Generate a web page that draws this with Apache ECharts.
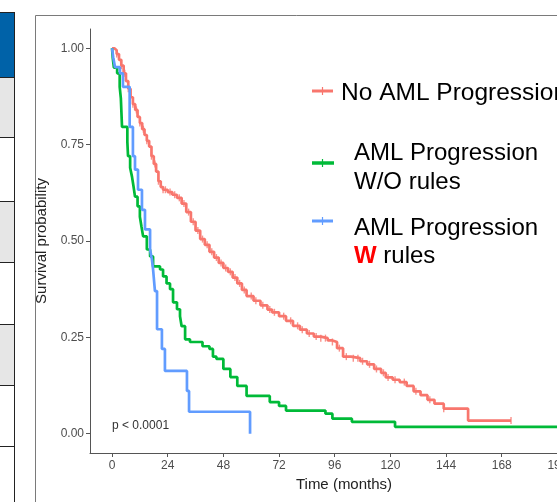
<!DOCTYPE html>
<html>
<head>
<meta charset="utf-8">
<script src="https://cdn.jsdelivr.net/npm/echarts@6/dist/echarts.min.js"></script>
<style>
  html, body { margin: 0; padding: 0; background: #fff; }
  #chart { width: 557px; height: 502px; }
</style>
</head>
<body>
<div id="chart"></div>
<script>
// tick labels
const timeTicks = [0, 24, 48, 72, 96, 120, 144, 168, 192]
const survTicks = [0, 0.25, 0.5, 0.75, 1]

// No AML Progression
const noProgTime = [0,1,2,3,4,5,6,7,8,9,10,11,12,13,14,15,16,17,18,19,20,21,22,
  24,26,28,30,32,34,36,38,40,42,44,46,48,50,52,54,56,58,
  61,64,67,69,72,75,78,81,84,87,90,93,95,97,
  99.6,103,107,110,113,116,118,121,124,127,130,133,136,139,143,153.5,172]
const noProgSurv = [1,0.995,0.985,0.97,0.955,0.935,0.915,0.895,0.873,0.855,0.84,0.822,0.806,0.79,0.775,0.76,0.745,0.72,0.70,0.68,0.655,0.64,0.633,
  0.627,0.62,0.612,0.597,0.575,0.55,0.527,0.505,0.49,0.472,0.457,0.443,0.43,0.42,0.405,0.39,0.373,0.357,
  0.345,0.333,0.322,0.315,0.305,0.293,0.28,0.27,0.26,0.252,0.248,0.242,0.238,0.222,
  0.20,0.196,0.188,0.18,0.168,0.158,0.146,0.14,0.134,0.124,0.11,0.10,0.088,0.078,0.065,0.034,0.034]
const noProgCensor = [2,4,5.5,7,9,10.5,12,13.5,15,17,18.5,20,22,23,25,27,29,31,33,35,37,39,41,43,45,47,49,
  51,53,55,57,60,62,65,68,70,74,77,80,82,85,88,90,92,95,98,101,104,106,108,111,114,117,119,122,126,131,137,143,172]

// AML Progression W/O rules
const woRulesTime = [0,0.3,0.8,2.2,3.3,3.8,4.3,6.6,6.9,7.8,8.6,9.3,9.9,11,12,12.7,13.4,
  15,16.4,17.7,20.7,22,23.5,25,26.3,28,29.3,30,31.5,33.6,
  39,42,43.5,45,48,51,54,58,68,72,75,92,95,103.4,122,205]
const woRulesSurv = [1,0.975,0.95,0.935,0.9,0.87,0.796,0.757,0.72,0.69,0.667,0.64,0.615,0.59,0.563,0.537,0.512,
  0.478,0.46,0.434,0.426,0.408,0.39,0.375,0.341,0.323,0.305,0.279,0.245,0.238,
  0.227,0.22,0.2,0.194,0.168,0.147,0.124,0.098,0.082,0.072,0.06,0.052,0.039,0.031,0.018,0.018]

// AML Progression W rules
const wRulesTime = [0,0.5,1.3,3.4,4.7,7.6,9,9.9,11.2,12.9,14.2,16.4,17.2,17.7,18.5,19.4,21.5,22.8,32.3,33.2,59.5]
const wRulesSurv = [1,0.977,0.951,0.935,0.9,0.796,0.72,0.685,0.633,0.581,0.53,0.478,0.452,0.426,0.37,0.271,0.22,0.163,0.111,0.057,0]

const colors = ["#F8766D", "#00BA38", "#619CFF"]
const font = "Liberation Sans, Arial, sans-serif"

const pairs = (t, s) => t.map((v, i) => [v, s[i]])

const survAt = (t, s, x) => {
    let k = 0
    for (let i = 0; i < t.length; i++) if (t[i] <= x) k = i
    return s[k]
}

const stepSeries = (name, t, s, color) => ({
    name,
    type: "line",
    step: "end",
    data: pairs(t, s),
    showSymbol: false,
    lineStyle: { color, width: 2.7 },
    silent: true
})

const chart = echarts.init(document.getElementById("chart"))

chart.setOption({
    animation: false,
    grid: { left: 90, top: 29, right: -41, bottom: 49, outerBoundsMode: "none" },
    xAxis: {
        type: "value",
        min: -9.5,
        max: 209.5,
        name: "Time (months)",
        nameLocation: "middle",
        nameGap: 23,
        nameTextStyle: { fontFamily: font, fontSize: 15, color: "#222" },
        axisLine: { onZero: false, lineStyle: { color: "#555", width: 1 } },
        axisTick: { customValues: timeTicks, length: 4, lineStyle: { color: "#555" } },
        axisLabel: { customValues: timeTicks, margin: 7, fontFamily: font, fontSize: 12, color: "#4d4d4d" },
        splitLine: { show: false }
    },
    yAxis: {
        type: "value",
        min: -0.05,
        max: 1.05,
        name: "Survival probability",
        nameLocation: "middle",
        nameGap: 36,
        nameTextStyle: { fontFamily: font, fontSize: 15, color: "#222" },
        axisLine: { show: true, onZero: false, lineStyle: { color: "#555", width: 1 } },
        axisTick: { show: true, customValues: survTicks, length: 4, lineStyle: { color: "#555" } },
        axisLabel: {
            customValues: survTicks, margin: 6, fontFamily: font, fontSize: 12, color: "#4d4d4d",
            formatter: v => v.toFixed(2)
        },
        splitLine: { show: false }
    },
    series: [
        stepSeries("No AML Progression", noProgTime, noProgSurv, colors[0]),
        {
            name: "No AML Progression censored",
            type: "scatter",
            symbol: "rect",
            symbolSize: [1.4, 7],
            itemStyle: { color: colors[0] },
            data: noProgCensor.map(c => [c, survAt(noProgTime, noProgSurv, c)]),
            silent: true
        },
        stepSeries("AML Progression W/O rules", woRulesTime, woRulesSurv, colors[1]),
        stepSeries("AML Progression W rules", wRulesTime, wRulesSurv, colors[2])
    ],
    graphic: [
        // left table strip
        { type: "rect", shape: { x: 0, y: 12, width: 14, height: 65 }, style: { fill: "#0062a8" } },
        { type: "rect", shape: { x: 0, y: 77, width: 14, height: 60 }, style: { fill: "#e6e6e6" } },
        { type: "rect", shape: { x: 0, y: 201, width: 14, height: 61 }, style: { fill: "#e6e6e6" } },
        { type: "rect", shape: { x: 0, y: 324, width: 14, height: 61 }, style: { fill: "#e6e6e6" } },
        ...[12, 77, 137, 201, 262, 324, 385, 446].map(y => ({
            type: "line", shape: { x1: 0, y1: y + 0.5, x2: 14, y2: y + 0.5 }, style: { stroke: "#222", lineWidth: 1 }
        })),
        { type: "line", shape: { x1: 14.5, y1: 12, x2: 14.5, y2: 502 }, style: { stroke: "#222", lineWidth: 1 } },
        // panel border
        { type: "rect", shape: { x: 35.5, y: 15.5, width: 700, height: 700 }, style: { fill: "none", stroke: "#7a7a7a", lineWidth: 1 } },
        // p value
        { type: "text", x: 112, y: 426, style: { text: "p < 0.0001", font: "12px " + font, fill: "#333", verticalAlign: "middle" } },
        // legend
        { type: "line", shape: { x1: 312, y1: 91, x2: 333, y2: 91 }, style: { stroke: colors[0], lineWidth: 3 } },
        { type: "line", shape: { x1: 322.5, y1: 87, x2: 322.5, y2: 95 }, style: { stroke: colors[0], lineWidth: 1.2 } },
        { type: "text", x: 341, y: 93, style: { text: "No AML Progression", font: "24.5px " + font, fill: "#000", verticalAlign: "middle" } },
        { type: "line", shape: { x1: 312, y1: 163, x2: 334, y2: 163 }, style: { stroke: colors[1], lineWidth: 3.5 } },
        { type: "line", shape: { x1: 322.5, y1: 159, x2: 322.5, y2: 167 }, style: { stroke: colors[1], lineWidth: 1.2 } },
        { type: "text", x: 354, y: 153, style: { text: "AML Progression", font: "24px " + font, fill: "#000", verticalAlign: "middle" } },
        { type: "text", x: 354, y: 182, style: { text: "W/O rules", font: "24px " + font, fill: "#000", verticalAlign: "middle" } },
        { type: "line", shape: { x1: 312, y1: 221, x2: 333, y2: 221 }, style: { stroke: colors[2], lineWidth: 3 } },
        { type: "line", shape: { x1: 322.5, y1: 217, x2: 322.5, y2: 225 }, style: { stroke: colors[2], lineWidth: 1.2 } },
        { type: "text", x: 354, y: 228, style: { text: "AML Progression", font: "24px " + font, fill: "#000", verticalAlign: "middle" } },
        {
            type: "text", x: 354, y: 256,
            style: {
                text: "{w|W} rules", font: "24px " + font, fill: "#000", verticalAlign: "middle",
                rich: { w: { fill: "#ff0000", fontWeight: "bold", fontSize: 24, fontFamily: font } }
            }
        }
    ]
})

window.addEventListener("resize", () => chart.resize())
</script>
</body>
</html>
